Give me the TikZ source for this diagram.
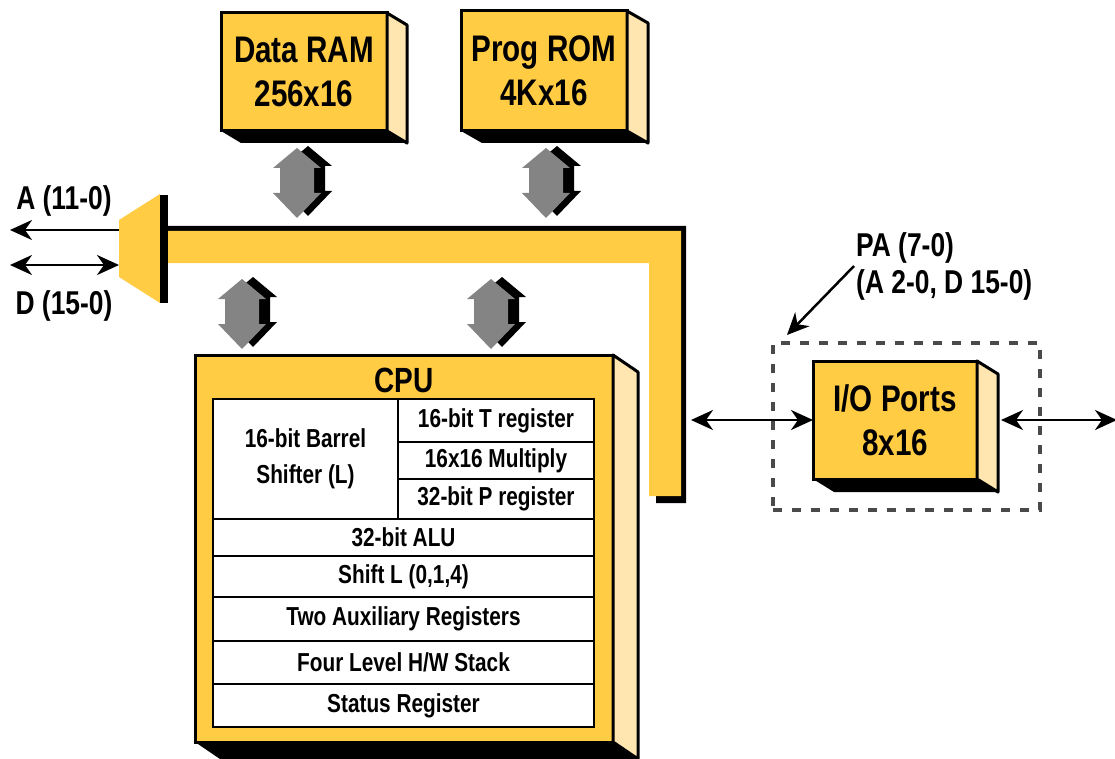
\documentclass[tikz,border=0pt]{standalone}
\usepackage{fontspec}
\usepackage{tikz}
\usetikzlibrary{arrows.meta}
\newfontfamily\diagfont[FakeStretch=0.8]{Liberation Sans}
\definecolor{chipyellow}{HTML}{FFCC44}
\definecolor{sideyellow}{HTML}{FFE6B0}
\definecolor{arrowgray}{HTML}{848484}
\definecolor{dashgray}{HTML}{4A4A4A}
% side and bottom faces of a chip
\newcommand{\chipdepth}[3]{%
  \filldraw[line width=3pt, fill=sideyellow, line join=round] (#1.north east) -- ++(#2,#3)
    -- ([shift={(#2,#3)}]#1.south east) -- (#1.south east) -- cycle;
  \fill[black] (#1.south west) -- (#1.south east) -- ([shift={(#2,#3)}]#1.south east)
    -- ([shift={(#2,#3)}]#1.south west) -- cycle;
}
% fat grey double arrow, top tip at #1, length #2
\newcommand{\fatarrow}[2]{%
  \fill[black] ([shift={(11,-2)}]#1) -- ++(24,20) -- ++(-7,0) -- ++(0,#2-45) -- ++(7,0)
    -- ++(-24,25) -- ++(-24,-25) -- ++(7,0) -- ++(0,45-#2) -- ++(-7,0) -- cycle;
  \fill[arrowgray] (#1) -- ++(24,20) -- ++(-7,0) -- ++(0,#2-45) -- ++(7,0)
    -- ++(-24,25) -- ++(-24,-25) -- ++(7,0) -- ++(0,45-#2) -- ++(-7,0) -- cycle;
}

\begin{document}
\begin{tikzpicture}[x=1pt, y=-1pt,
  chip/.style={draw, line width=3pt, fill=chipyellow, outer sep=0pt, align=center,
    font=\diagfont\bfseries\fontsize{37}{44}\selectfont},
  cell/.style={draw, line width=2.5pt, fill=white, outer sep=0pt, inner sep=0pt,
    align=center, font=\diagfont\bfseries\fontsize{26}{36}\selectfont},
  sig/.style={align=left, inner sep=0pt, font=\diagfont\bfseries\fontsize{33}{37}\selectfont},
  wire/.style={line width=2.5pt, >={Stealth[length=22pt,width=20pt,inset=7pt]}}]
  \useasboundingbox (0,0) rectangle (1115,759);

  % memories
  \node [chip, minimum width=166pt, minimum height=118pt] (ram) at (304,72) {Data RAM\\256x16};
  \chipdepth{ram}{20}{12}
  \node [chip, minimum width=166pt, minimum height=120pt] (rom) at (544,71) {Prog ROM\\4Kx16};
  \chipdepth{rom}{21}{12}

  % bus
  \fill[black] (168,226) -- (686,226) -- (686,503) -- (656,503) -- (656,496) -- (681,496)
    -- (681,231) -- (168,231) -- cycle;
  \fill[chipyellow] (168,231) -- (681,231) -- (681,496) -- (649,496) -- (649,263)
    -- (168,263) -- cycle;
  \fill[chipyellow] (119,220) -- (160,194) -- (160,303) -- (119,277) -- cycle;
  \fill[black] (160,195) rectangle (168,303);

  \coordinate (ramlink) at (297,148);
  \coordinate (romlink) at (546,148);
  \coordinate (cpulinka) at (242,279);
  \coordinate (cpulinkb) at (491,279);
  \fatarrow{ramlink}{70}
  \fatarrow{romlink}{70}
  \fatarrow{cpulinka}{70}
  \fatarrow{cpulinkb}{70}

  % external pins
  \coordinate (muxa) at (119,230);
  \coordinate (muxd) at (119,265);
  \coordinate (aout) at (10,230);
  \coordinate (dout) at (10,265);
  \draw[wire,->] (muxa) -- (aout);
  \draw[wire,<->] (dout) -- (muxd);
  \node [sig] (alabel) at (64,201) {A (11-0)};
  \node [sig] (dlabel) at (64,306) {D (15-0)};

  % CPU
  \node [draw, line width=3pt, fill=chipyellow, outer sep=0pt, minimum width=418pt,
    minimum height=387pt] (cpu) at (404,548.5) {};
  \chipdepth{cpu}{25}{17}
  \node [font=\diagfont\bfseries\fontsize{35}{40}\selectfont] (cputitle) at (404,380) {CPU};
  \node [cell, minimum width=185pt, minimum height=120pt, anchor=north west] (barrel)
    at (213,399) {16-bit Barrel\\Shifter (L)};
  \node [cell, minimum width=196pt, minimum height=43pt, anchor=north west] (treg)
    at (barrel.north east) {16-bit T register};
  \node [cell, minimum width=196pt, minimum height=37pt, anchor=north west] (mult)
    at (treg.south west) {16x16 Multiply};
  \node [cell, minimum width=196pt, minimum height=40pt, anchor=north west] (preg)
    at (mult.south west) {32-bit P register};
  \node [cell, minimum width=381pt, minimum height=37pt, anchor=north west] (alu)
    at (barrel.south west) {32-bit ALU};
  \node [cell, minimum width=381pt, minimum height=41pt, anchor=north west] (shift)
    at (alu.south west) {Shift L (0,1,4)};
  \node [cell, minimum width=381pt, minimum height=44pt, anchor=north west] (aux)
    at (shift.south west) {Two Auxiliary Registers};
  \node [cell, minimum width=381pt, minimum height=43pt, anchor=north west] (stack)
    at (aux.south west) {Four Level H/W Stack};
  \node [cell, minimum width=381pt, minimum height=43pt, anchor=north west] (status)
    at (stack.south west) {Status Register};

  % I/O ports
  \node [draw=dashgray, line width=4.5pt, dash pattern=on 9pt off 10pt, minimum width=267pt,
    minimum height=167pt, outer sep=0pt] (iogroup) at (906.5,426.5) {};
  \node [chip, minimum width=164pt, minimum height=118pt] (io) at (895,420) {I/O Ports\\8x16};
  \chipdepth{io}{21}{13}
  \coordinate (busout) at (691,420);
  \coordinate (ioside) at (1001,420);
  \coordinate (ioout) at (1117,420);
  \draw[wire,<->] (busout) -- (io.west);
  \draw[wire,<->] (ioside) -- (ioout);
  \node [sig, anchor=west] (palabel) at (856,266) {PA (7-0)\\(A 2-0, D 15-0)};
  \draw[wire,->] ([xshift=-2pt]palabel.west) -- ([xshift=14pt,yshift=8pt]iogroup.north west);
\end{tikzpicture}
\end{document}
